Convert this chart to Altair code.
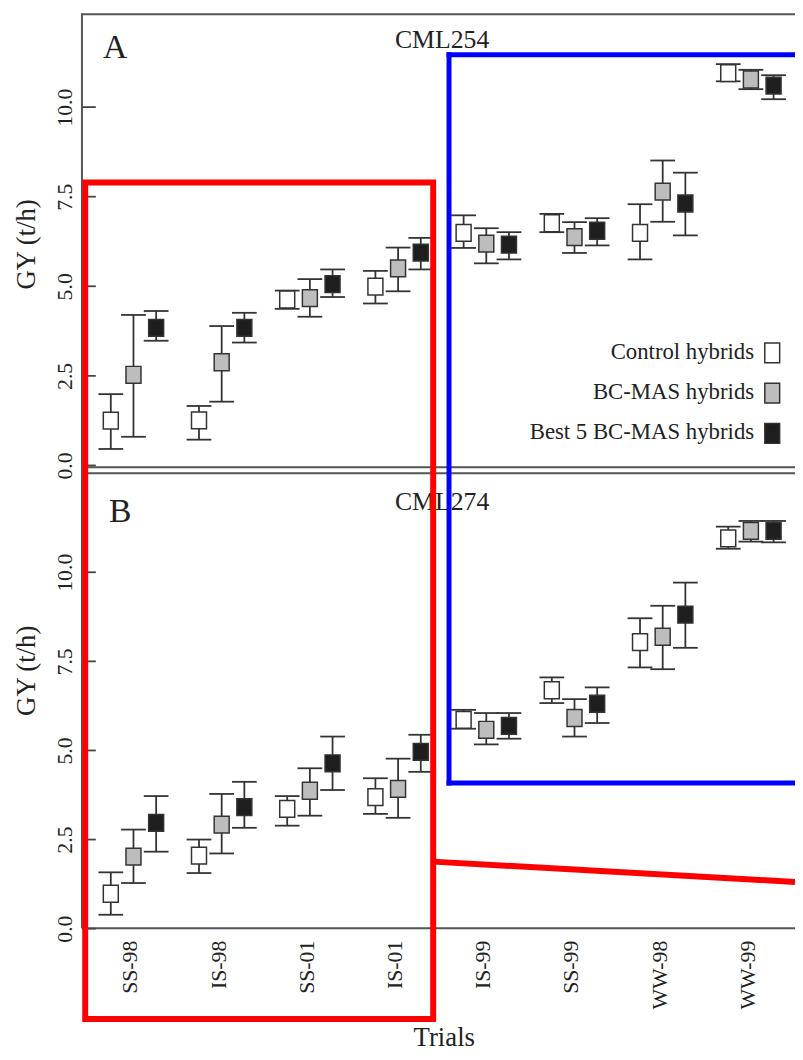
import altair as alt
import pandas as pd

# ---------------- data ----------------
trials = ["SS-98", "IS-98", "SS-01", "IS-01", "IS-99", "SS-99", "WW-98", "WW-99"]
series = ["Control hybrids", "BC-MAS hybrids", "Best 5 BC-MAS hybrids"]
panel_letters = ["A", "B"]
panel_titles = ["CML254", "CML274"]
y_ticks = [0.0, 2.5, 5.0, 7.5, 10.0]

# Panel A (CML254)
A_control_mean = [1.25, 1.26, 4.63, 4.99, 6.49, 6.76, 6.49, 10.95]
A_control_low = [0.46, 0.72, 4.37, 4.52, 6.07, 6.51, 5.75, 10.72]
A_control_high = [1.99, 1.66, 4.88, 5.43, 6.98, 7.02, 7.29, 11.20]
A_bcmas_mean = [2.53, 2.88, 4.67, 5.50, 6.19, 6.37, 7.64, 10.77]
A_bcmas_low = [0.80, 1.78, 4.15, 4.86, 5.64, 5.93, 6.80, 10.50]
A_bcmas_high = [4.20, 3.89, 5.20, 6.08, 6.62, 6.79, 8.51, 11.04]
A_best_mean = [3.84, 3.84, 5.06, 5.94, 6.16, 6.55, 7.31, 10.60]
A_best_low = [3.48, 3.43, 4.70, 5.47, 5.75, 6.14, 6.42, 10.22]
A_best_high = [4.31, 4.26, 5.47, 6.35, 6.51, 6.90, 8.17, 10.89]

# Panel B (CML274)
B_control_mean = [0.98, 2.05, 3.36, 3.69, 5.86, 6.69, 8.04, 10.95]
B_control_low = [0.39, 1.56, 2.89, 3.22, 5.61, 6.33, 7.33, 10.66]
B_control_high = [1.58, 2.50, 3.72, 4.22, 6.14, 7.05, 8.71, 11.28]
B_bcmas_mean = [2.02, 2.92, 3.87, 3.92, 5.58, 5.91, 8.19, 11.16]
B_bcmas_low = [1.28, 2.11, 3.17, 3.11, 5.17, 5.39, 7.28, 10.86]
B_bcmas_high = [2.78, 3.78, 4.50, 4.77, 6.05, 6.44, 9.06, 11.44]
B_best_mean = [2.97, 3.41, 4.64, 4.96, 5.69, 6.31, 8.81, 11.16]
B_best_low = [2.16, 2.83, 3.89, 4.40, 5.33, 5.77, 7.88, 10.84]
B_best_high = [3.72, 4.12, 5.39, 5.44, 6.05, 6.77, 9.71, 11.44]


def long_table(groups):
    rows = []
    for s, (m, lo, hi) in zip(series, groups):
        for t, a, b, c in zip(trials, m, lo, hi):
            rows.append({"trial": t, "series": s, "mean": a, "low": b, "high": c})
    return pd.DataFrame(rows)


dfA = long_table([(A_control_mean, A_control_low, A_control_high),
                  (A_bcmas_mean, A_bcmas_low, A_bcmas_high),
                  (A_best_mean, A_best_low, A_best_high)])
dfB = long_table([(B_control_mean, B_control_low, B_control_high),
                  (B_bcmas_mean, B_bcmas_low, B_bcmas_high),
                  (B_best_mean, B_best_low, B_best_high)])

FONT = "Liberation Serif"
INK = "#222222"
LINE = "#333333"
FRAME = "#555555"

W, H = 720.3, 924.3

fill_scale = alt.Scale(domain=series, range=["#ffffff", "#bdbdbd", "#1e1e1e"])
x_scale = alt.Scale(domain=trials, range=[7.5, W], paddingOuter=0, paddingInner=0)
xo_scale = alt.Scale(domain=series, paddingOuter=0.445, paddingInner=0)

x_axis = alt.Axis(orient="bottom", labelAngle=270, labelAlign="right", labelBaseline="middle",
                  labelPadding=12, labelOffset=-3, ticks=False, domain=False, grid=False,
                  labelFont=FONT, labelFontSize=22, labelColor=INK,
                  title="Trials", titleFont=FONT, titleFontSize=27, titleFontWeight="normal",
                  titleColor=INK, titleBaseline="alphabetic", titleAlign="center",
                  titleX=365.5, titleY=118.5)

SQ = "M-0.89,-1H0.89V1H-0.89Z"
LEG_SQ = "M-0.75,-1H0.75V1H-0.75Z"


def x_enc():
    return alt.X("trial:N", sort=trials, scale=x_scale, axis=x_axis)


def panel(df, yrange, title_y):
    ysc = alt.Scale(domain=[0, 12], range=yrange, nice=False, zero=False)
    y_axis = alt.Axis(orient="left", values=y_ticks, format=".1f", ticks=False, domain=False,
                      grid=False, labelAngle=270, labelAlign="center", labelBaseline="alphabetic",
                      labelPadding=11, labelFont=FONT, labelFontSize=22, labelColor=INK,
                      title="GY (t/h)", titleFont=FONT, titleFontSize=27, titleFontWeight="normal",
                      titleColor=INK, titleAngle=270, titleBaseline="alphabetic",
                      titleAlign="center", titleX=-47.7, titleY=title_y)
    xo = alt.XOffset("series:N", sort=series, scale=xo_scale)
    base = alt.Chart(df)
    bars = base.mark_rule(color=LINE, strokeWidth=1.8).encode(
        x=x_enc(), xOffset=xo,
        y=alt.Y("low:Q", scale=ysc, axis=None), y2="high:Q")
    cap_lo = base.mark_tick(color=LINE, size=25, thickness=1.8, opacity=1).encode(
        x=x_enc(), xOffset=xo, y=alt.Y("low:Q", scale=ysc, axis=None))
    cap_hi = base.mark_tick(color=LINE, size=25, thickness=1.8, opacity=1).encode(
        x=x_enc(), xOffset=xo, y=alt.Y("high:Q", scale=ysc, axis=None))
    pts = base.mark_point(filled=True, shape=SQ, size=289, stroke=LINE, strokeWidth=1.5,
                          opacity=1).encode(
        x=x_enc(), xOffset=xo,
        y=alt.Y("mean:Q", scale=ysc, axis=y_axis),
        fill=alt.Fill("series:N", scale=fill_scale, legend=None))
    tk = alt.Chart(pd.DataFrame({"v": y_ticks})).mark_rule(color="#444444", strokeWidth=1.8).encode(
        y=alt.Y("v:Q", scale=ysc, axis=None), x=alt.value(0), x2=alt.value(14))
    return [bars, cap_lo, cap_hi, pts, tk]


one = pd.DataFrame({"d": [0]})


def seg(x, x2, y, y2, color, width):
    return alt.Chart(one).mark_rule(color=color, strokeWidth=width, strokeCap="butt").encode(
        x=alt.value(x), x2=alt.value(x2), y=alt.value(y), y2=alt.value(y2))


frames = [
    seg(0, W, 1, 1, FRAME, 2),            # top of panel A
    seg(0, W, 458.7, 458.7, FRAME, 2),    # bottom of panel A
    seg(0, W, 464.7, 464.7, FRAME, 2),    # top of panel B
    seg(0, W, H, H, FRAME, 2),            # bottom of panel B
    seg(0, 0, 0, H, FRAME, 2),            # left border
]

panelA = panel(dfA, [456.8, 22.4], 233)
panelB = panel(dfB, [924.7, 492.7], 663.7)


def label(txt, x, y, size, align):
    return alt.Chart(one).mark_text(font=FONT, fontSize=size, color=INK, align=align,
                                    baseline="alphabetic").encode(
        x=alt.value(x), y=alt.value(y), text=alt.value(txt))


texts = [
    label(panel_letters[0], 21.3, 45, 34, "left"),
    label(panel_letters[1], 27.3, 514, 34, "left"),
    label(panel_titles[0], 363.8, 35.3, 26, "center"),
    label(panel_titles[1], 363.8, 502, 26, "center"),
]

leg_df = pd.DataFrame({"series": series})
leg_y = alt.Y("series:N", sort=series,
              scale=alt.Scale(type="point", domain=series, range=[343, 424.5], padding=0),
              axis=None)
leg_pts = alt.Chart(leg_df).mark_point(filled=True, shape=LEG_SQ, size=400, stroke=LINE,
                                       strokeWidth=1.5, opacity=1).encode(
    x=alt.value(697.3), y=leg_y, fill=alt.Fill("series:N", scale=fill_scale, legend=None))
leg_txt = alt.Chart(leg_df).mark_text(align="right", baseline="alphabetic", dy=6, font=FONT,
                                      fontSize=23, color=INK).encode(
    x=alt.value(679), y=leg_y, text="series:N")

# highlight annotations drawn over the figure (kept inside the drawing area)
RED, BLUE = "#ff0000", "#0000ff"
red_box = alt.Chart(one).mark_rect(filled=False, stroke=RED, strokeWidth=6).encode(
    x=alt.value(3.3), x2=alt.value(354.8), y=alt.value(171), y2=alt.value(1016))
blue_parts = [
    seg(368.3, W, 42, 42, BLUE, 5),
    seg(368.3, W, 777.5, 777.5, BLUE, 5),
    seg(370.8, 370.8, 39.5, 780, BLUE, 5),
]
red_line = alt.Chart(one).mark_rule(color=RED, strokeWidth=6, strokeCap="butt").encode(
    x=alt.value(354.8), y=alt.value(857), x2=alt.value(W), y2=alt.value(877.5))

chart = alt.layer(
    *frames, *panelA, *panelB, leg_pts, leg_txt, *texts, red_box, *blue_parts, red_line
).resolve_scale(y="independent").properties(
    width=W, height=H,
    padding={"left": 74.7, "top": 0, "right": 0, "bottom": 119.7},
    autosize=alt.AutoSizeParams(type="none"),
).configure_view(stroke=None).configure_axis(
    labelFont=FONT, titleFont=FONT
)

chart.save("out.html", embed_options={"renderer": "svg", "actions": False})
